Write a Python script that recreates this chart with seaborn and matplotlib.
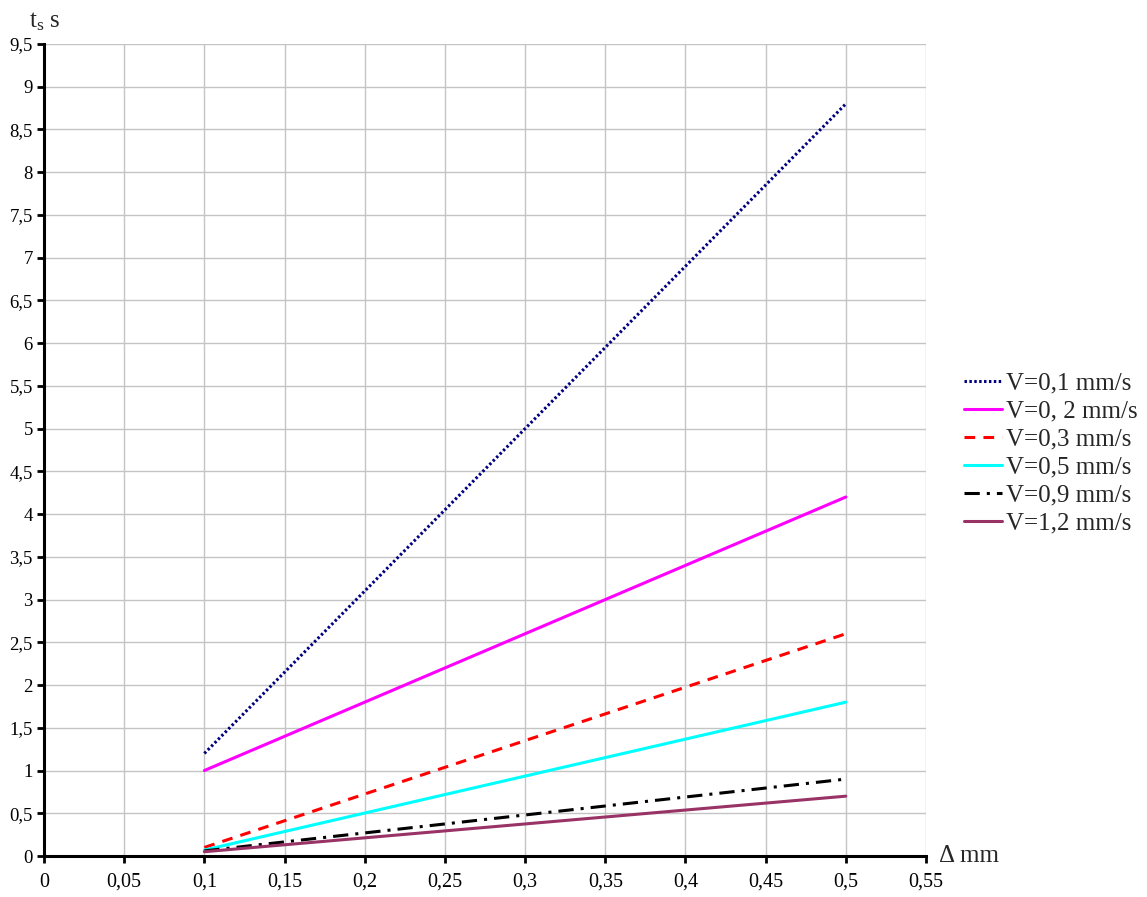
import matplotlib
matplotlib.use("Agg")
import matplotlib.pyplot as plt
import pandas as pd
import seaborn as sns
from matplotlib.ticker import MultipleLocator, FuncFormatter

# Gap width Δ (mm) at the two ends of each line
gap_mm = [0.1, 0.5]

series_labels = [
    "V=0,1 mm/s",
    "V=0, 2 mm/s",
    "V=0,3 mm/s",
    "V=0,5 mm/s",
    "V=0,9 mm/s",
    "V=1,2 mm/s",
]

# Time t_s (s) for each feed speed
t_v01 = [1.2, 8.8]
t_v02 = [1.0, 4.2]
t_v03 = [0.1, 2.6]
t_v05 = [0.07, 1.8]
t_v09 = [0.06, 0.9]
t_v12 = [0.05, 0.7]

series_values = [t_v01, t_v02, t_v03, t_v05, t_v09, t_v12]

colors = ["#000080", "#ff00ff", "#ff0000", "#00ffff", "#000000", "#993366"]
dash_styles = [(0.8, 0.8), "", (3.5, 2.7), "", (5, 2.3, 1, 2.3), ""]

df = pd.DataFrame(
    [
        {"gap": g, "t": t, "series": lab}
        for lab, vals in zip(series_labels, series_values)
        for g, t in zip(gap_mm, vals)
    ]
)

sns.set_theme(style="whitegrid")
plt.rcParams["font.family"] = ["Liberation Serif", "DejaVu Serif"]
plt.rcParams["mathtext.fontset"] = "custom"
plt.rcParams["mathtext.rm"] = "Liberation Serif"
plt.rcParams["mathtext.it"] = "Liberation Serif:italic"

W, H = 1147, 897
fig = plt.figure(figsize=(W / 100, H / 100), dpi=100)
ax = fig.add_axes([44 / W, 41 / H, (926 - 44) / W, (856 - 44) / H])

sns.lineplot(
    data=df,
    x="gap",
    y="t",
    hue="series",
    style="series",
    hue_order=series_labels,
    style_order=series_labels,
    palette=dict(zip(series_labels, colors)),
    dashes=dict(zip(series_labels, dash_styles)),
    linewidth=2.2,
    ax=ax,
)

ax.set_xlim(0, 0.55)
ax.set_ylim(0, 9.5)
ax.xaxis.set_major_locator(MultipleLocator(0.05))
ax.yaxis.set_major_locator(MultipleLocator(0.5))


def comma_fmt(v, pos):
    return f"{round(v, 2):g}".replace(".", ",")


ax.xaxis.set_major_formatter(FuncFormatter(comma_fmt))
ax.yaxis.set_major_formatter(FuncFormatter(comma_fmt))
ax.set_xlabel("")
ax.set_ylabel("")

ax.grid(True, color="#c4c4c4", linewidth=1.0)
ax.set_facecolor("white")
for side in ("top", "right"):
    ax.spines[side].set_visible(False)
for side in ("left", "bottom"):
    ax.spines[side].set_visible(True)
    ax.spines[side].set_color("black")
    ax.spines[side].set_linewidth(2.2)

ax.tick_params(axis="x", bottom=True, direction="out", length=5, width=2,
               color="black", labelsize=14.5, labelcolor="black", pad=7)
ax.tick_params(axis="y", left=True, direction="out", length=5, width=2,
               color="black", labelsize=13.5, labelcolor="black", pad=3)

handles, labels = ax.get_legend_handles_labels()
ax.legend(
    handles,
    labels,
    loc="upper left",
    bbox_to_anchor=(964 / W, 1 - 372 / H),
    bbox_transform=fig.transFigure,
    frameon=False,
    fontsize=18,
    borderpad=0,
    borderaxespad=0,
    handlelength=1.5,
    handletextpad=0.2,
    labelspacing=0.22,
)

fig.text(29 / W, 1 - 27 / H, r"t$_\mathrm{s}$ s", fontsize=18, va="baseline", ha="left")
fig.text(939 / W, 1 - 862 / H, "Δ mm", fontsize=18, va="baseline", ha="left")

fig.savefig("out.png", dpi=100, facecolor="white")
